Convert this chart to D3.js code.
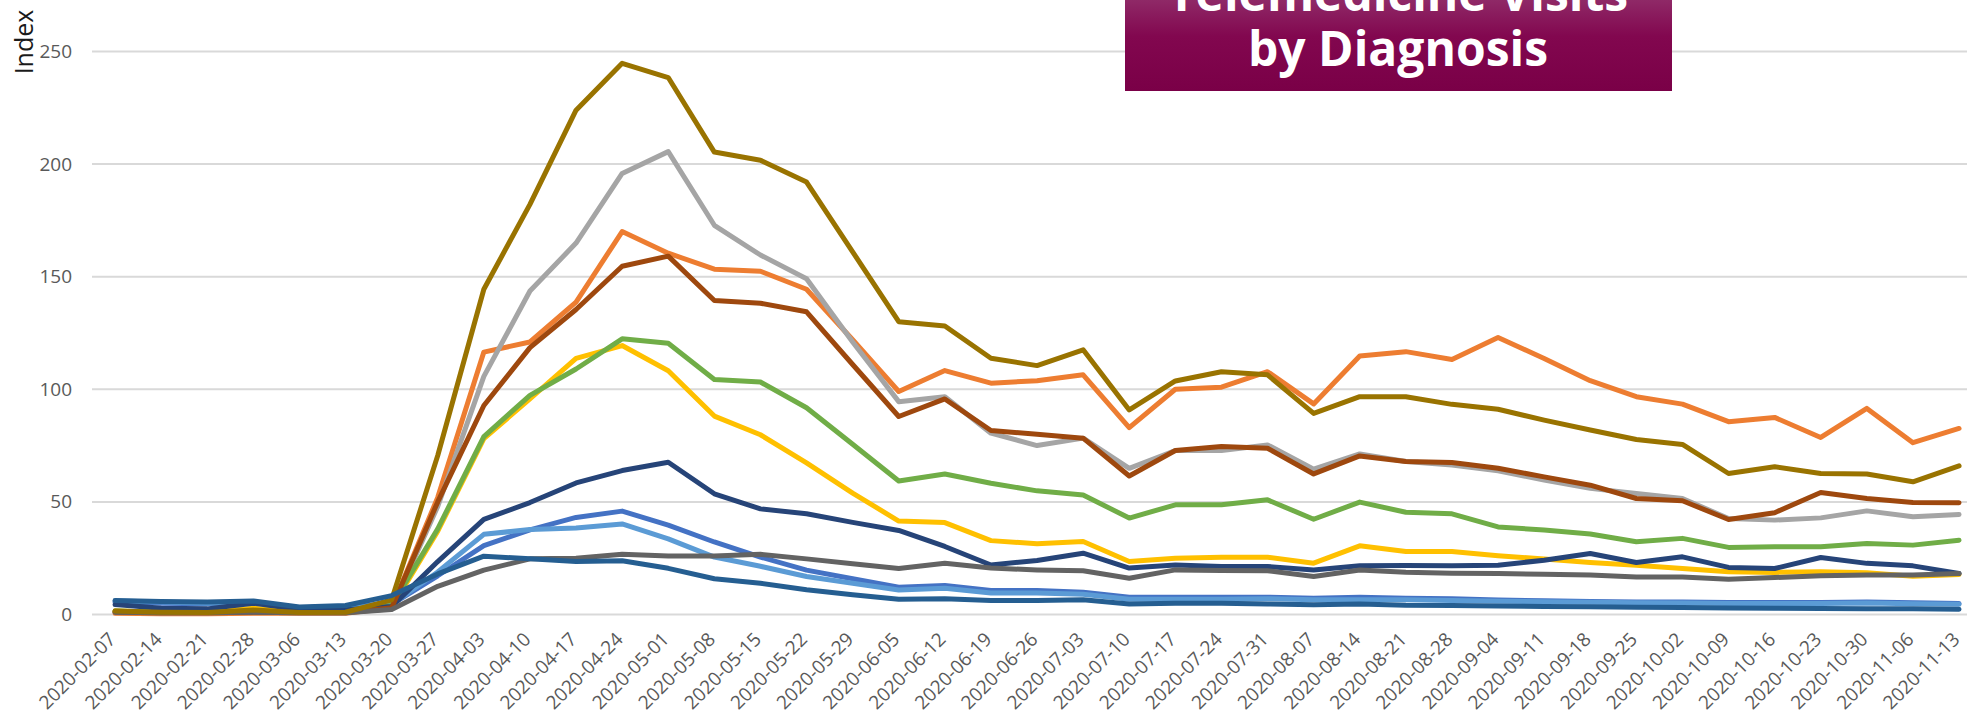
<!DOCTYPE html>
<html>
<head>
<meta charset="utf-8">
<script src="https://cdn.jsdelivr.net/npm/d3@7"></script>
<style>
  html, body { margin: 0; padding: 0; background: #fff; overflow: hidden; }
  svg { display: block; }
</style>
</head>
<body>
<div id="graf"></div>
<script>
// I. Datos
weeks = ['2020-02-07','2020-02-14','2020-02-21','2020-02-28','2020-03-06','2020-03-13','2020-03-20',
  '2020-03-27','2020-04-03','2020-04-10','2020-04-17','2020-04-24','2020-05-01','2020-05-08',
  '2020-05-15','2020-05-22','2020-05-29','2020-06-05','2020-06-12','2020-06-19','2020-06-26',
  '2020-07-03','2020-07-10','2020-07-17','2020-07-24','2020-07-31','2020-08-07','2020-08-14',
  '2020-08-21','2020-08-28','2020-09-04','2020-09-11','2020-09-18','2020-09-25','2020-10-02',
  '2020-10-09','2020-10-16','2020-10-23','2020-10-30','2020-11-06','2020-11-13']

yTicks = [0, 50, 100, 150, 200, 250]

series1 = [5.5,5.0,4.8,5.5,3.0,3.5,4.5, 17.2,30.6,37.6,43.1,45.9,39.7,32.2,25.5,19.7,15.9,12.1,
  12.9,10.7,10.7,9.9,7.7,7.7,7.7,7.7,7.2,7.7,7.2,7.0, 6.4,6.1,5.8,5.6,5.5,5.3,5.3,5.3,5.6,5.2,4.9]
series2 = [0.5,0.3,0.3,0.5,0.5,0.5,3.0, 52,116.5,121,138.7,170,160.4,153.3,152.4,144.4,122,99,
  108.3,102.7,103.8,106.4,83,100,100.9,107.8,93.5,114.8,116.7,113.2, 123,113.7,103.8,96.7,93.4,85.6,87.5,78.6,91.5,76.3,82.6]
series3 = [1,0.8,0.8,1,0.8,0.8,2.5, 48,105.7,143.6,164.9,195.8,205.5,172.8,159.6,149.1,121,94.5,
  96.7,80.5,75,78.3,64.9,72.8,72.8,75.3,64.5,71.3,67.9,66.4, 63.8,59.7,56,53.7,51.5,42.6,41.9,42.9,46,43.4,44.4]
series4 = [1.5,1,1,2.8,1,1,3, 37,78.1,95.7,113.7,119.4,108.2,88.1,79.8,67.3,53.9,41.5,
  40.8,32.8,31.4,32.4,23.5,25,25.4,25.4,22.8,30.5,28,28, 26.1,24.6,23.1,21.9,20.4,19,18.7,19,18.5,17,17.8]
series5 = [6,5.5,5,5.5,3,3.5,4.5, 18.9,35.6,37.7,38.4,40.2,33.6,25.5,21.4,16.9,13.9,10.9,
  11.7,9.5,9.5,9,6.8,6.8,6.8,7,6.5,6.5,6.5,6.2, 5.9,5.7,5.4,5.2,5.1,4.9,4.9,4.9,5.1,4.8,4.5]
series6 = [1.5,1,1,1.5,1,1,4, 38,79,97.3,109,122.4,120.4,104.3,103.2,91.8,75.6,59.3,
  62.4,58.3,54.9,53.1,42.8,48.7,48.7,50.9,42.3,49.9,45.4,44.7, 38.9,37.5,35.7,32.3,33.8,29.8,30.1,30.1,31.5,30.8,33]
series7 = [4.4,2.8,2.5,5,2.2,2.1,3.5, 23.5,42.2,49.7,58.4,63.9,67.6,53.6,46.9,44.7,40.9,37.3,
  30.2,22,24,27.2,20.6,22,21.3,21.3,19.8,21.6,21.7,21.6, 21.9,24.1,27.1,23.1,25.6,20.9,20.4,25.3,22.7,21.6,18.2]
series8 = [1,0.8,0.8,1,0.8,0.8,3, 50,92.8,118.5,135.4,154.6,159.1,139.4,138.2,134.4,111,87.9,
  95.7,81.7,80,78.3,61.5,72.8,74.6,73.8,62.4,70.4,67.9,67.5, 64.9,61.1,57.4,51.5,50.5,42.2,45.2,54.2,51.5,49.7,49.6]
series9 = [1,0.8,0.8,1,0.8,0.8,2.2, 12.5,19.7,24.7,25,26.7,26,26,26.7,24.7,22.5,20.4,
  22.8,20.6,19.8,19.4,16.1,19.8,19.5,19.4,16.9,19.8,18.8,18.3, 18.2,17.9,17.5,16.7,16.7,15.7,16.4,17.2,17.5,17.5,18.2]
series10 = [1.5,1,0.9,2,0.9,1,6.5, 70.6,144.4,182.1,223.9,244.7,238.4,205.3,201.7,192,161,130,
  128.1,113.8,110.5,117.5,90.8,103.7,107.8,106.4,89.3,96.7,96.7,93.3, 91.1,86.3,81.9,77.7,75.5,62.6,65.6,62.6,62.4,58.9,66]
series11 = [6.2,5.8,5.5,6,3.3,4,8.4, 18,25.9,24.7,23.5,23.9,20.5,15.9,13.9,11,8.8,6.8,
  7,6.2,6.2,6.5,4.7,5,5,4.7,4.3,4.7,4.1,4, 3.8,3.6,3.4,3.2,3.1,2.9,2.8,2.7,2.6,2.5,2.3]

allSeries = [series1, series2, series3, series4, series5, series6, series7, series8, series9, series10, series11]
colores = ['#4472C4','#ED7D31','#A5A5A5','#FFC000','#5B9BD5','#70AD47','#264478','#9E480E','#636363','#997300','#255E91']

// II. Configuración
ancho = 1967
alto = 715
margins = { left: 92, top: 51.4 }
bandW = 46.1

svg = d3.select('#graf').append('svg')
  .attr('width', ancho)
  .attr('height', alto)

x = d3.scaleBand()
  .domain(weeks)
  .range([margins.left, margins.left + bandW * weeks.length])

y = d3.scaleLinear()
  .domain([0, 250])
  .range([614.5, margins.top])

// rejilla
svg.append('g')
  .selectAll('line')
  .data(yTicks)
  .enter().append('line')
    .attr('x1', margins.left)
    .attr('x2', ancho)
    .attr('y1', d => y(d))
    .attr('y2', d => y(d))
    .attr('stroke', '#d9d9d9')
    .attr('stroke-width', 2)

// eje y
yAxis = d3.axisLeft(y).tickValues(yTicks).tickSize(0).tickPadding(0)
yAxisGroup = svg.append('g')
  .attr('transform', 'translate(72, 0)')
  .call(yAxis)
yAxisGroup.select('.domain').remove()
yAxisGroup.selectAll('text')
  .attr('fill', '#595959')
  .style('font-family', 'Open Sans')
  .style('font-size', '19px')

// eje x
xAxis = d3.axisBottom(x).tickSize(0).tickPadding(0)
xAxisGroup = svg.append('g')
  .attr('transform', 'translate(0, 614.5)')
  .call(xAxis)
xAxisGroup.select('.domain').remove()
xAxisGroup.selectAll('text')
  .attr('fill', '#595959')
  .style('font-family', 'Open Sans')
  .style('font-size', '19px')
  .attr('text-anchor', 'end')
  .attr('dy', 0)
  .attr('y', 0)
  .attr('transform', 'translate(2, 26) rotate(-45)')

// lineas
line = d3.line()
  .x((d, i) => x(weeks[i]) + x.bandwidth() / 2)
  .y(d => y(d))

svg.append('g')
  .selectAll('path')
  .data(allSeries)
  .enter().append('path')
    .attr('d', d => line(d))
    .attr('fill', 'none')
    .attr('stroke', (d, i) => colores[i])
    .attr('stroke-width', 5)
    .attr('stroke-linejoin', 'round')
    .attr('stroke-linecap', 'round')

// titulo eje y
svg.append('text')
  .attr('transform', 'translate(33, 42) rotate(-90)')
  .attr('text-anchor', 'middle')
  .style('font-family', 'Open Sans')
  .style('font-size', '25px')
  .attr('fill', '#1a1a1a')
  .text('Index')

// caja del titulo
grad = svg.append('defs').append('linearGradient')
  .attr('id', 'gradTitulo')
  .attr('x1', 0).attr('y1', 0).attr('x2', 0).attr('y2', 1)
grad.append('stop').attr('offset', '0%').attr('stop-color', '#8f2967')
grad.append('stop').attr('offset', '40%').attr('stop-color', '#82074f')
grad.append('stop').attr('offset', '100%').attr('stop-color', '#7a0047')

svg.append('rect')
  .attr('x', 1125)
  .attr('y', 0)
  .attr('width', 547)
  .attr('height', 91)
  .attr('fill', 'url(#gradTitulo)')

titulo = ['Telemedicine Visits', 'by Diagnosis']
svg.append('g')
  .selectAll('text')
  .data(titulo)
  .enter().append('text')
    .attr('x', 1398)
    .attr('y', (d, i) => 11 + i * 55)
    .attr('text-anchor', 'middle')
    .attr('fill', '#fff')
    .style('font-family', 'Open Sans')
    .style('font-weight', 700)
    .style('font-size', '48px')
    .text(d => d)
</script>
</body>
</html>
